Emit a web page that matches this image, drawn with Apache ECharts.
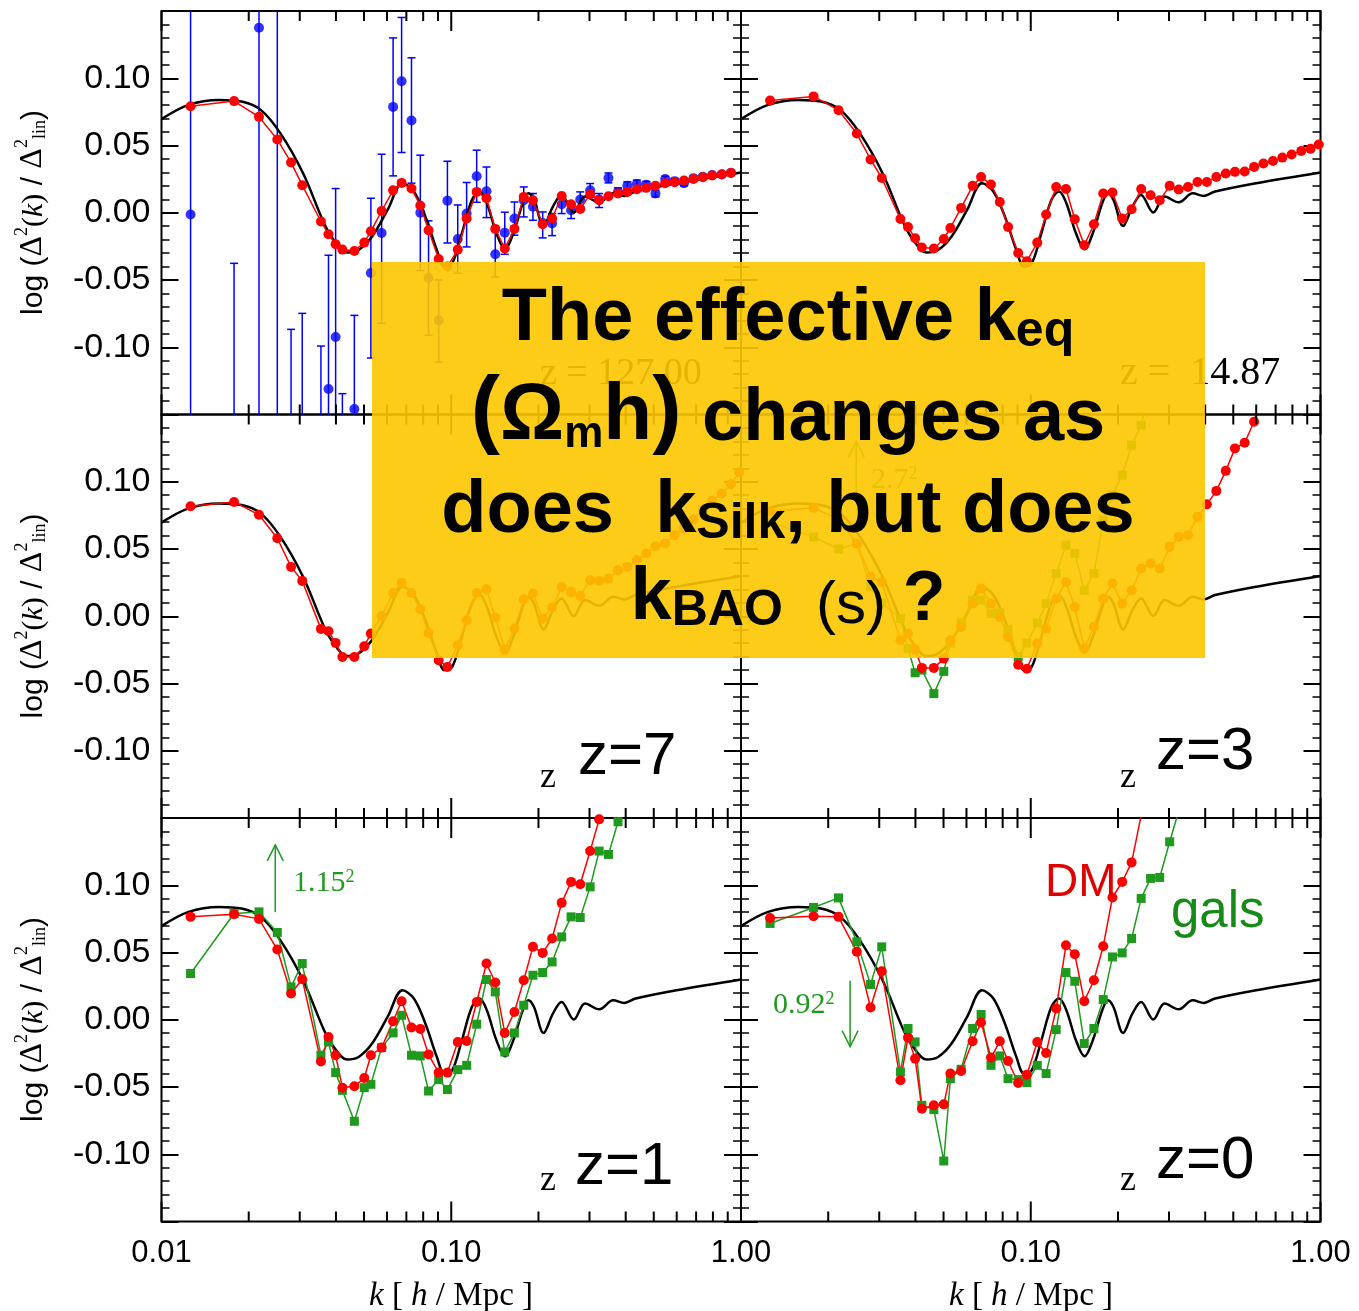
<!DOCTYPE html>
<html>
<head>
<meta charset="utf-8">
<script src="https://cdn.jsdelivr.net/npm/echarts@6.0.0/dist/echarts.min.js"></script>
<style>
html, body { margin: 0; padding: 0; background: #fff; }
#chart { width: 1359px; height: 1311px; }
</style>
</head>
<body>
<div id="chart"></div>
<script>
// k bins shared by the simulation panels
var kBins = [0.0126, 0.0178, 0.0217, 0.0251, 0.0280, 0.0306, 0.0355, 0.0377, 0.0399, 0.0421,
    0.0463, 0.0501, 0.0528, 0.0575, 0.0630, 0.0674, 0.0729, 0.0782, 0.0835, 0.0905,
    0.0970, 0.1053, 0.1130, 0.1224, 0.1323, 0.1419, 0.1530, 0.1652, 0.1779, 0.1914,
    0.2068, 0.2229, 0.2405, 0.2592, 0.2787, 0.3016, 0.3239, 0.3488, 0.3763, 0.4053,
    0.4370, 0.4710, 0.5068, 0.5474, 0.5900, 0.6355, 0.6855, 0.7385, 0.7950, 0.8585,
    0.9235, 0.9860];

// linear theory (black line), same in every panel
var kTheory = [0.0100, 0.0124, 0.0158, 0.0189, 0.0220, 0.0257, 0.0308, 0.0364, 0.0393, 0.0437,
    0.0479, 0.0533, 0.0603, 0.0679, 0.0743, 0.0814, 0.0892, 0.0948, 0.1008, 0.1088,
    0.1178, 0.1252, 0.1327, 0.1432, 0.1534, 0.1637, 0.1765, 0.1846, 0.1930, 0.2083,
    0.2243, 0.2403, 0.2648, 0.2897, 0.3241, 0.3622, 0.3958, 0.4328, 0.6000, 1.0000];
var theory = [0.0696, 0.0802, 0.0839, 0.0827, 0.0765, 0.0592, 0.0294, -0.0078, -0.0202, -0.0296,
    -0.0277, -0.0177, 0.0021, 0.0219, 0.0158, -0.0028, -0.0277, -0.0400, -0.0376, -0.0153,
    0.0095, 0.0158, 0.0071, -0.0153, -0.0272, -0.0153, 0.0071, 0.0145, 0.0095, -0.0098,
    0.0046, 0.0132, 0.0001, 0.0120, 0.0078, 0.0145, 0.0125, 0.0158, 0.0220, 0.0300];

// z = 127 initial conditions (blue, with error bars)
var blueVal = [-0.0013, -0.25, 0.1375, 0.2, -0.25, -0.22, -0.2, -0.131, -0.0924, -0.17,
    -0.146, -0.3, -0.0448, -0.015, 0.0787, 0.0978, 0.0686, 0.0, -0.0485, -0.08,
    0.009, -0.0195, -0.0006, 0.0272, 0.016, -0.0309, -0.0148, -0.0043, 0.0093, 0.0045,
    -0.0076, -0.008, 0.0063, 0.0018, 0.0098, 0.0167, 0.0098, 0.0259, 0.0155, 0.02,
    0.0213, 0.0208, 0.0143, 0.0251, 0.0235, 0.022, 0.0256, 0.0268, 0.028, 0.0285,
    0.0298, null];
var blueLo = [-0.4, -0.46, -0.4, -0.4, -0.41, -0.37, -0.3, -0.23, -0.203, -0.21,
    -0.216, -0.5, -0.108, -0.0822, 0.0274, 0.0448, 0.022, -0.043, -0.091, -0.111,
    -0.0225, -0.045, -0.0254, 0.0078, -0.0036, -0.0478, -0.0309, -0.0167, -0.0031, -0.0056,
    -0.0187, -0.017, -0.0006, -0.0043, 0.0043, 0.0118, 0.0039, 0.0222, 0.0125, 0.017,
    0.0183, 0.0183, 0.0118, 0.0231, 0.0215, 0.02, 0.0236, 0.0253, 0.0265, 0.027,
    0.0283, null];
var blueHi = [0.4, -0.0376, 0.67, 0.8, -0.0867, -0.0748, -0.0991, -0.0316, 0.018, -0.1345,
    -0.0763, -0.2, 0.0108, 0.0435, 0.13, 0.1452, 0.1152, 0.0428, -0.006, -0.05,
    0.0383, 0.0058, 0.0225, 0.0465, 0.034, -0.013, 0.0004, 0.008, 0.0192, 0.0143,
    0.0006, -0.0006, 0.0118, 0.008, 0.0155, 0.0217, 0.0143, 0.0296, 0.0185, 0.023,
    0.0243, 0.0233, 0.0168, 0.0271, 0.0255, 0.024, 0.0276, 0.0283, 0.0295, 0.03,
    0.0313, null];

// dark matter (red) per redshift
var dmZ127 = [0.0792, 0.083, 0.0713, 0.0545, 0.0373, 0.0205, -0.0065, -0.016, -0.0234, -0.0274,
    -0.0284, -0.0222, -0.0138, 0.0013, 0.0167, 0.0222, 0.018, 0.0054, -0.013, -0.0344,
    -0.040, -0.0274, -0.0043, 0.0155, 0.0108, -0.012, -0.0266, -0.012, 0.0118, 0.0093,
    -0.0086, -0.0043, 0.0125, 0.0063, 0.0028, 0.0138, 0.0093, 0.0123, 0.0143, 0.0155,
    0.0175, 0.0185, 0.02, 0.022, 0.0227, 0.024, 0.0251, 0.0264, 0.0277, 0.0286,
    0.0296, null];
var dmZ15 = [0.0835, 0.0865, 0.0763, 0.0589, 0.0396, 0.0259, -0.0046, -0.0106, -0.019, -0.0259,
    -0.0266, -0.0195, -0.0113, 0.0036, 0.02, 0.0266, 0.021, 0.008, -0.0106, -0.0299,
    -0.036, -0.0222, -0.0013, 0.0192, 0.0177, -0.0048, -0.0242, -0.0086, 0.0143, 0.015,
    -0.0043, 0.0026, 0.0177, 0.013, 0.0093, 0.02, 0.0173, 0.0192, 0.0229, 0.0229,
    0.0266, 0.0292, 0.0304, 0.0307, 0.0341, 0.0366, 0.0385, 0.041, 0.0433, 0.046,
    0.0475, 0.0507];
var dmZ7 = [0.0818, 0.085, 0.0754, 0.058, 0.0367, 0.0263, -0.0094, -0.0112, -0.0198, -0.0303,
    -0.0303, -0.0223, -0.0129, 0.0002, 0.0173, 0.0248, 0.0173, 0.0052, -0.0124, -0.0327,
    -0.0377, -0.0216, -0.003, 0.0173, 0.0201, -0.001, -0.0248, -0.0092, 0.0126, 0.0169,
    -0.0017, 0.0065, 0.0218, 0.0181, 0.0151, 0.0268, 0.0263, 0.028, 0.0342, 0.0367,
    0.0417, 0.0466, 0.0521, 0.0541, 0.0603, 0.0653, 0.0719, 0.0794, 0.0858, 0.0913,
    0.0982, 0.107];
var dmZ3 = [0.078, 0.0806, 0.072, 0.0541, 0.0293, 0.0255, -0.0179, -0.0129, -0.0248, -0.0384,
    -0.0384, -0.0315, -0.0179, -0.008, 0.0094, 0.0206, 0.0094, -0.0005, -0.0154, -0.036,
    -0.039, -0.0203, -0.0092, 0.0131, 0.0255, 0.0069, -0.024, -0.008, 0.0131, 0.0243,
    0.0094, 0.0193, 0.0355, 0.0392, 0.0355, 0.0516, 0.059, 0.0603, 0.0739, 0.0832,
    0.0932, 0.1081, 0.1248, 0.129, 0.1446, 0.17, 0.19, null, null, null,
    null, null];
var dmZ1 = [0.0765, 0.0785, 0.075, 0.0522, 0.0195, 0.0301, -0.0311, -0.0128, -0.0264, -0.0505,
    -0.0495, -0.0433, -0.0264, -0.0207, -0.0011, 0.0138, -0.0058, -0.0068, -0.0259, -0.0393,
    -0.0393, -0.0165, -0.0158, 0.0132, 0.0418, 0.0277, -0.0098, 0.0058, 0.0294, 0.0542,
    0.0497, 0.0604, 0.0869, 0.1025, 0.1008, 0.1254, 0.149, 0.175, 0.2, null,
    null, null, null, null, null, null, null, null, null, null,
    null, null];
var dmZ0 = [0.0757, 0.077, 0.0765, 0.0505, 0.0091, 0.0361, -0.045, -0.0133, -0.0289, -0.0661,
    -0.0636, -0.0629, -0.04, -0.0381, -0.016, -0.0021, -0.0281, -0.016, -0.0307, -0.047,
    -0.0408, -0.0165, -0.0247, 0.0083, 0.0554, 0.0487, 0.0138, 0.0294, 0.0547, 0.0909,
    0.1025, 0.117, 0.152, 0.19, null, null, null, null, null, null,
    null, null, null, null, null, null, null, null, null, null,
    null, null];

// galaxies (green)
var galsZ3 = [0.07, 0.059, 0.05, 0.054, 0.0218, 0.01, -0.0017, -0.024, -0.042, -0.04,
    -0.0575, -0.041, -0.02, -0.005, 0.0119, 0.012, 0.002, 0.0025, -0.01, -0.03,
    -0.02, -0.005, 0.0094, 0.0318, 0.0528, 0.0466, 0.0193, 0.0318, 0.0714, 0.09,
    0.1049, 0.1272, 0.1421, 0.17, null, null, null, null, null, null,
    null, null, null, null, null, null, null, null, null, null,
    null, null];
var galsZ1 = [0.0344, 0.079, 0.0802, 0.0649, 0.0244, 0.0418, -0.0264, -0.0165, -0.0393, -0.0525,
    -0.0755, -0.0505, -0.048, -0.0207, -0.0098, 0.0033, -0.0264, -0.0269, -0.053, -0.0445,
    -0.0519, -0.0371, -0.0339, -0.0033, 0.0299, 0.0207, -0.024, -0.0098, 0.0108, 0.0331,
    0.0351, 0.043, 0.0616, 0.0765, 0.076, 0.0988, 0.1254, 0.1229, 0.1472, 0.17,
    null, null, null, null, null, null, null, null, null, null,
    null, null];
var galsZ0 = [0.0716, 0.0835, 0.0906, 0.0579, 0.0262, 0.0542, -0.0388, -0.0065, -0.0165, -0.0636,
    -0.0668, -0.105, -0.0438, -0.0368, -0.0065, 0.0039, -0.0339, -0.0269, -0.0438, -0.0445,
    -0.0467, -0.0339, -0.04, -0.0073, 0.0351, 0.0286, -0.0177, -0.0065, 0.015, 0.0467,
    0.0497, 0.0604, 0.0902, 0.1051, 0.1058, 0.1323, 0.155, 0.18, null, null,
    null, null, null, null, null, null, null, null, null, null,
    null, null];

// bias arrows (panel index, k, from, to)
var arrowPanel = [3, 4, 5];
var arrowK = [0.0250, 0.0247, 0.0238];
var arrowFrom = [0.092, 0.080, 0.029];
var arrowTo = [0.130, 0.130, -0.020];

var xMajorTicks = [0.01, 0.1, 1];
var xMinorTicks = [0.02, 0.03, 0.04, 0.05, 0.06, 0.07, 0.08, 0.09, 0.2, 0.3, 0.4, 0.5, 0.6, 0.7, 0.8, 0.9];

var SANS = 'Liberation Sans';
var SERIF = 'Liberation Serif';
var RED = '#ff0000', GREEN = '#1f9a1f', BLUE = '#0000ff';

var colLeft = [161.5, 741], colWidth = 579.5;
var rowTop = [11, 414.5, 818], rowHeight = 403.5;

function pairs(ks, vs) {
    var out = [];
    for (var i = 0; i < ks.length; i++) {
        if (vs[i] != null) out.push([ks[i], vs[i]]);
    }
    return out;
}

function fmtY(v) {
    if (Math.abs(v) < 1e-9) return '0.00';
    if (Math.abs(v) > 0.12) return '';
    return v.toFixed(2);
}

function renderXTick(params, api) {
    var cs = params.coordSys;
    var x = api.coord([api.value(0), 0])[0];
    var len = api.value(1) ? 20 : 10;
    var st = {stroke: '#000', lineWidth: 2};
    return {type: 'group', children: [
        {type: 'line', shape: {x1: x, y1: cs.y, x2: x, y2: cs.y + len}, style: st},
        {type: 'line', shape: {x1: x, y1: cs.y + cs.height, x2: x, y2: cs.y + cs.height - len}, style: st}
    ]};
}

function renderErrorBar(params, api) {
    var cs = params.coordSys;
    var k = api.value(0);
    var lo = api.coord([k, api.value(1)]);
    var hi = api.coord([k, api.value(2)]);
    var top = cs.y, bottom = cs.y + cs.height;
    var st = {stroke: BLUE, lineWidth: 1.5};
    var children = [];
    var y1 = Math.max(hi[1], top), y2 = Math.min(lo[1], bottom);
    if (y1 < y2) {
        children.push({type: 'line', shape: {x1: lo[0], y1: y1, x2: lo[0], y2: y2}, style: st});
        if (hi[1] >= top) children.push({type: 'line', shape: {x1: lo[0] - 4, y1: hi[1], x2: lo[0] + 4, y2: hi[1]}, style: st});
        if (lo[1] <= bottom) children.push({type: 'line', shape: {x1: lo[0] - 4, y1: lo[1], x2: lo[0] + 4, y2: lo[1]}, style: st});
    }
    return {type: 'group', children: children};
}

function renderArrow(params, api) {
    var k = api.value(0);
    var p1 = api.coord([k, api.value(1)]);
    var p2 = api.coord([k, api.value(2)]);
    var dir = p2[1] > p1[1] ? 1 : -1;
    var st = {stroke: GREEN, lineWidth: 1.5, fill: null};
    return {type: 'group', children: [
        {type: 'line', shape: {x1: p1[0], y1: p1[1], x2: p2[0], y2: p2[1]}, style: st},
        {type: 'polyline', shape: {points: [[p2[0] - 8, p2[1] - dir * 16], [p2[0], p2[1]], [p2[0] + 8, p2[1] - dir * 16]]}, style: st}
    ]};
}

function makeY(g, pos, labels) {
    return {
        gridIndex: g, type: 'value', position: pos, min: -0.15, max: 0.15, interval: 0.05,
        axisLine: {show: false, onZero: false},
        splitLine: {show: false},
        axisTick: {show: true, inside: true, length: 17, lineStyle: {color: '#000', width: 2}},
        minorTick: {show: true, splitNumber: 5, length: 8, lineStyle: {color: '#000', width: 1.5}},
        axisLabel: {show: labels, margin: 11, color: '#000', fontFamily: SANS, fontSize: 34, formatter: fmtY}
    };
}

function lineSeries(g, vals, color, symbol, size) {
    return {
        type: 'line', xAxisIndex: g, yAxisIndex: 2 * g, data: pairs(kBins, vals),
        symbol: symbol, symbolSize: size, showAllSymbol: true,
        lineStyle: {color: color, width: 1.5}, itemStyle: {color: color}
    };
}

var xTickData = xMajorTicks.map(function (v) { return [v, 1]; })
    .concat(xMinorTicks.map(function (v) { return [v, 0]; }));

var dmByPanel = [dmZ127, dmZ15, dmZ7, dmZ3, dmZ1, dmZ0];
var galsByPanel = [null, null, null, galsZ3, galsZ1, galsZ0];

var grids = [], xAxes = [], yAxes = [], series = [];
for (var g = 0; g < 6; g++) {
    var row = Math.floor(g / 2), col = g % 2;
    grids.push({left: colLeft[col], top: rowTop[row], width: colWidth, height: rowHeight,
        show: true, borderColor: '#000', borderWidth: 2, backgroundColor: 'rgba(0,0,0,0)'});
    xAxes.push({
        gridIndex: g, type: 'log', logBase: 10, min: 0.01, max: 1,
        axisLine: {show: false, onZero: false}, axisTick: {show: false}, splitLine: {show: false},
        axisLabel: {show: row === 2, margin: 16, color: '#000', fontFamily: SANS, fontSize: 31,
            formatter: (function (c) {
                return function (v) { return (c === 1 && v < 0.05) ? '' : v.toFixed(2); };
            })(col)}
    });
    yAxes.push(makeY(g, 'left', col === 0));
    yAxes.push(makeY(g, 'right', false));

    series.push({type: 'custom', xAxisIndex: g, yAxisIndex: 2 * g, silent: true, z: 5,
        data: xTickData, renderItem: renderXTick});

    if (g === 0) {
        var errData = [];
        for (var i = 0; i < kBins.length; i++) {
            if (blueVal[i] != null) errData.push([kBins[i], blueLo[i], blueHi[i]]);
        }
        series.push({type: 'custom', xAxisIndex: 0, yAxisIndex: 0, silent: true,
            data: errData, renderItem: renderErrorBar});
        series.push({type: 'scatter', xAxisIndex: 0, yAxisIndex: 0, data: pairs(kBins, blueVal),
            symbolSize: 10, itemStyle: {color: BLUE}});
    }
    series.push({type: 'line', xAxisIndex: g, yAxisIndex: 2 * g, data: pairs(kTheory, theory),
        smooth: 0.35, symbol: 'none', lineStyle: {color: '#000', width: 2.5}});
    if (galsByPanel[g]) series.push(lineSeries(g, galsByPanel[g], GREEN, 'rect', 9));
    series.push(lineSeries(g, dmByPanel[g], RED, 'circle', 10));
}

for (var a = 0; a < arrowPanel.length; a++) {
    series.push({type: 'custom', xAxisIndex: arrowPanel[a], yAxisIndex: 2 * arrowPanel[a], silent: true,
        data: [[arrowK[a], arrowFrom[a], arrowTo[a]]], renderItem: renderArrow});
}

// text overlays
var graphics = [];
var yTitleRich = {
    a: {fontFamily: SANS, fontSize: 30, lineHeight: 36, verticalAlign: 'bottom', fill: '#000'},
    d: {fontFamily: SERIF, fontSize: 32, lineHeight: 36, verticalAlign: 'bottom', fill: '#000'},
    i: {fontFamily: SERIF, fontSize: 30, lineHeight: 36, verticalAlign: 'bottom', fill: '#000'},
    k: {fontFamily: SERIF, fontStyle: 'italic', fontSize: 30, lineHeight: 36, verticalAlign: 'bottom', fill: '#000'},
    p: {fontFamily: SERIF, fontSize: 18, lineHeight: 18, verticalAlign: 'top', fill: '#000'},
    b: {fontFamily: SERIF, fontSize: 18, lineHeight: 18, verticalAlign: 'bottom', fill: '#000'}
};
[212.5, 616, 1019.5].forEach(function (cy) {
    graphics.push({type: 'text', x: 31, y: cy, rotation: Math.PI / 2, z: 10, style: {
        text: '{a|log (}{d|\u0394}{p|2}{i|(}{k|k}{i|)}{a| / }{d|\u0394}{p|2}{b|lin}{a|)}',
        rich: yTitleRich, align: 'center', verticalAlign: 'middle'}});
});
[451, 1031].forEach(function (cx) {
    graphics.push({type: 'text', x: cx, y: 1296, z: 10, style: {
        text: '{k|k}{r| [ }{k|h}{r| / Mpc ]}',
        rich: {
            k: {fontFamily: SERIF, fontStyle: 'italic', fontSize: 33, fill: '#000'},
            r: {fontFamily: SERIF, fontSize: 33, fill: '#000'}
        }, align: 'center', verticalAlign: 'middle'}});
});

function plainText(x, y, txt, font, size, color, z) {
    return {type: 'text', x: x, y: y, z: z || 10, style: {text: txt, fontFamily: font, fontSize: size,
        fill: color, align: 'left', verticalAlign: 'middle'}};
}
graphics.push(plainText(540, 374, 'z = 127.00', SERIF, 38, '#000'));
graphics.push(plainText(1120, 373, 'z =  14.87', SERIF, 40, '#000'));
graphics.push(plainText(540, 778, 'z', SERIF, 36, '#000'));
graphics.push(plainText(1120, 778, 'z', SERIF, 36, '#000'));
graphics.push(plainText(540, 1181, 'z', SERIF, 36, '#000'));
graphics.push(plainText(1120, 1181, 'z', SERIF, 36, '#000'));
graphics.push(plainText(578, 757, 'z=7', SANS, 60, '#000'));
graphics.push(plainText(1156, 752, 'z=3', SANS, 60, '#000'));
graphics.push(plainText(575, 1167, 'z=1', SANS, 60, '#000'));
graphics.push(plainText(1156, 1161, 'z=0', SANS, 60, '#000'));
graphics.push(plainText(1045, 883, 'DM', SANS, 46, '#e00000'));
graphics.push(plainText(1171, 913, 'gals', SANS, 51, '#178a17'));

function supText(x, y, base) {
    return {type: 'text', x: x, y: y, z: 10, style: {
        text: '{b|' + base + '}{s|2}',
        rich: {
            b: {fontFamily: SERIF, fontSize: 30, lineHeight: 30, fill: GREEN},
            s: {fontFamily: SERIF, fontSize: 18, lineHeight: 18, verticalAlign: 'top', fill: GREEN}
        }, align: 'left', verticalAlign: 'middle'}};
}
graphics.push(supText(293, 883, '1.15'));
graphics.push(supText(773, 1005, '0.92'));
graphics.push(supText(871, 480, '2.7'));

// yellow question box
graphics.push({type: 'rect', z: 100, shape: {x: 372, y: 262, width: 833, height: 396},
    style: {fill: 'rgba(252,198,0,0.9)'}});
var boxRich = {
    a: {fontFamily: SANS, fontWeight: 'bold', fontSize: 74, lineHeight: 74, verticalAlign: 'bottom', fill: '#000'},
    s: {fontFamily: SANS, fontWeight: 'bold', fontSize: 50, lineHeight: 50, verticalAlign: 'bottom', fill: '#000'},
    p: {fontFamily: SANS, fontWeight: 'bold', fontSize: 88, lineHeight: 88, verticalAlign: 'bottom', fill: '#000'},
    o: {fontFamily: SANS, fontWeight: 'bold', fontSize: 80, lineHeight: 80, verticalAlign: 'bottom', fill: '#000'},
    m: {fontFamily: SANS, fontWeight: 'bold', fontSize: 44, lineHeight: 44, verticalAlign: 'bottom', fill: '#000'},
    r: {fontFamily: SANS, fontSize: 60, lineHeight: 60, verticalAlign: 'bottom', fill: '#000'},
    q: {fontFamily: SANS, fontWeight: 'bold', fontSize: 70, lineHeight: 70, verticalAlign: 'bottom', fill: '#000'}
};
var boxLines = [
    ['{a|The effective k}{s|eq}', 320],
    ['{p|(}{o|\u03a9}{m|m}{o|h}{p|)}{a| changes as}', 413],
    ['{a|does  k}{s|Silk}{a|, but does}', 512],
    ['{a|k}{s|BAO}{r|  (s) }{q|?}', 599]
];
boxLines.forEach(function (ln) {
    graphics.push({type: 'text', x: 788, y: ln[1], z: 101, style: {
        text: ln[0], rich: boxRich, align: 'center', verticalAlign: 'middle'}});
});

var chart = echarts.init(document.getElementById('chart'));
chart.setOption({
    animation: false,
    backgroundColor: '#fff',
    grid: grids,
    xAxis: xAxes,
    yAxis: yAxes,
    series: series,
    graphic: {elements: graphics}
});
</script>
</body>
</html>
